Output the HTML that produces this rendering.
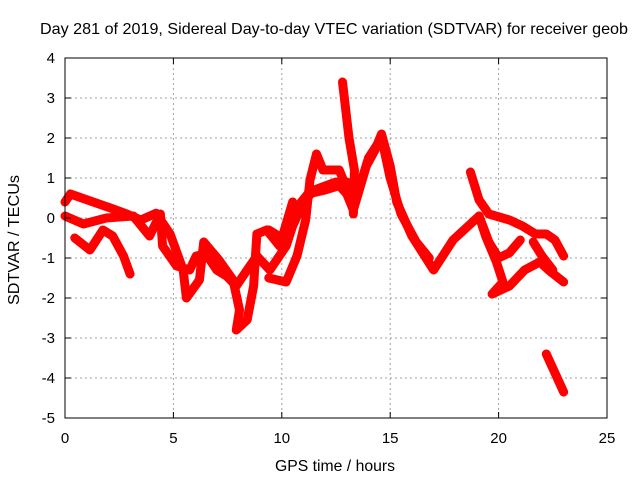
<!DOCTYPE html>
<html><head><meta charset="utf-8"><style>
body{margin:0;background:#fff}
svg{display:block;font-family:"Liberation Sans",sans-serif}
</style></head><body>
<svg width="640" height="480" viewBox="0 0 640 480">
<rect x="0" y="0" width="640" height="480" fill="#fff"/>
<g id="grid"></g>
<g id="series"></g>
<rect x="65" y="58" width="542" height="360" fill="none" stroke="#000" stroke-width="1"/>
<g id="ticks"></g>
<text x="334" y="34" text-anchor="middle" font-size="16" textLength="588" lengthAdjust="spacingAndGlyphs">Day 281 of 2019, Sidereal Day-to-day VTEC variation (SDTVAR) for receiver geob</text>
<text x="335" y="471" text-anchor="middle" font-size="16" textLength="120" lengthAdjust="spacingAndGlyphs">GPS time / hours</text>
<text transform="translate(19,240) rotate(-90)" text-anchor="middle" font-size="16" textLength="130" lengthAdjust="spacingAndGlyphs">SDTVAR / TECUs</text>
</svg>
<script>
const xTicks=[0,5,10,15,20,25];
const yTicks=[4,3,2,1,0,-1,-2,-3,-4,-5];
const s1=[[0,0.4],[0.25,0.6],[1.3,0.4],[2.1,0.25],[2.85,0.1],[3.5,-0.05],[4.2,0.12],[4.85,-0.4],[5.45,-1.3],[5.6,-2.0],[6.2,-1.55],[6.4,-0.6],[7.1,-1.05],[7.75,-1.55],[8.05,-2.3],[7.9,-2.8],[8.4,-2.55],[8.7,-1.7],[8.85,-0.4],[9.3,-0.3],[9.9,-0.7],[10.5,0.4]];
const s2=[[0.45,-0.5],[1.15,-0.8],[1.75,-0.3],[2.2,-0.45],[2.7,-0.95],[3.0,-1.4]];
const s3=[[0,0.05],[0.85,-0.15],[1.9,0],[3.15,0.05],[3.9,-0.45],[4.4,0.1],[4.5,-0.7],[5.15,-1.2],[5.75,-1.3],[6.05,-0.95],[6.5,-0.9],[7.0,-1.3],[7.45,-1.45],[7.9,-1.7],[8.4,-1.3],[8.85,-0.95],[9.45,-1.3],[10.2,-0.7],[10.5,-0.2],[11,0.4],[11.5,0.7],[12,0.8],[12.5,0.9],[13,0.6],[13.3,0.2],[13.9,1.3],[14.3,1.7],[14.6,2.1],[15,1.3],[15.3,0.4],[16.0,-0.45],[17.0,-1.3],[17.9,-0.55],[18.6,-0.2],[19.1,0.05],[19.55,-0.6],[20.0,-1.0],[20.5,-0.87],[21.0,-0.55]];
const s4=[[9.4,-1.5],[10.2,-1.6],[10.7,-0.95],[11.1,-0.05],[11.3,0.95],[11.6,1.6],[11.9,1.2],[12.65,1.2],[13.1,0.6],[13.3,0.3],[13.6,0.8],[14.0,1.5],[14.6,2.0],[15.0,1.0],[15.5,0.1],[16.2,-0.6],[16.8,-1.0]];
const s5=[[9.4,-0.3],[10.0,-0.5],[10.6,0.2],[11.2,0.6],[12.0,0.7],[12.6,0.8],[13.0,0.9]];
const s6=[[12.8,3.4],[13.1,2.0],[13.35,1.2],[13.3,0.1]];
const s7=[[19.1,0.05],[19.4,-0.45],[19.9,-1.1],[20.2,-1.6],[19.7,-1.9],[20.5,-1.7],[21.2,-1.3],[21.9,-1.1],[22.3,-1.3],[23.0,-1.6]];
const s8=[[18.7,1.15],[19.1,0.45],[19.55,0.1],[20.5,-0.05],[21.1,-0.2],[21.7,-0.4],[22.2,-0.4],[22.6,-0.55],[23.0,-0.95]];
const s9=[[21.6,-0.6],[22.0,-0.95],[22.5,-1.3]];
const s10=[[22.2,-3.4],[23.0,-4.35]];
const allSeries=[s1,s2,s3,s4,s5,s6,s7,s8,s9,s10];
const X=h=>65+h*542/25, Y=v=>218-v*40;
const NS="http://www.w3.org/2000/svg";
const grid=document.getElementById('grid'), ticks=document.getElementById('ticks'), sg=document.getElementById('series');
function mk(tag,attrs,parent){const e=document.createElementNS(NS,tag);for(const k in attrs)e.setAttribute(k,attrs[k]);parent.appendChild(e);return e;}
xTicks.forEach(t=>{const x=X(t);
 if(t>0&&t<25){const g=mk('line',{x1:x,x2:x,y1:58,y2:418,stroke:'#a0a0a0','stroke-dasharray':'2,3'},grid);
 
 }
 mk('line',{x1:x,x2:x,y1:418,y2:412,stroke:'#000'},ticks);mk('line',{x1:x,x2:x,y1:58,y2:64,stroke:'#000'},ticks);
 const l=mk('text',{x:x,y:443,'text-anchor':'middle','font-size':'15'},ticks);l.textContent=t;
 
 });
yTicks.forEach(t=>{const y=Y(t);
 if(t<4&&t>-5){const g=mk('line',{x1:65,x2:607,y1:y,y2:y,stroke:'#a0a0a0','stroke-dasharray':'2,3'},grid);
 
 }
 mk('line',{x1:65,x2:71,y1:y,y2:y,stroke:'#000'},ticks);mk('line',{x1:601,x2:607,y1:y,y2:y,stroke:'#000'},ticks);
 const l=mk('text',{x:55,y:y+5,'text-anchor':'end','font-size':'15'},ticks);l.textContent=t;
 
 });
allSeries.forEach((s,i)=>{const p=mk('polyline',{points:s.map(d=>X(d[0])+','+Y(d[1])).join(' '),fill:'none',stroke:'#ff0000','stroke-width':'9','stroke-linejoin':'round','stroke-linecap':'round'},sg);
 
 });
</script>
</body></html>
